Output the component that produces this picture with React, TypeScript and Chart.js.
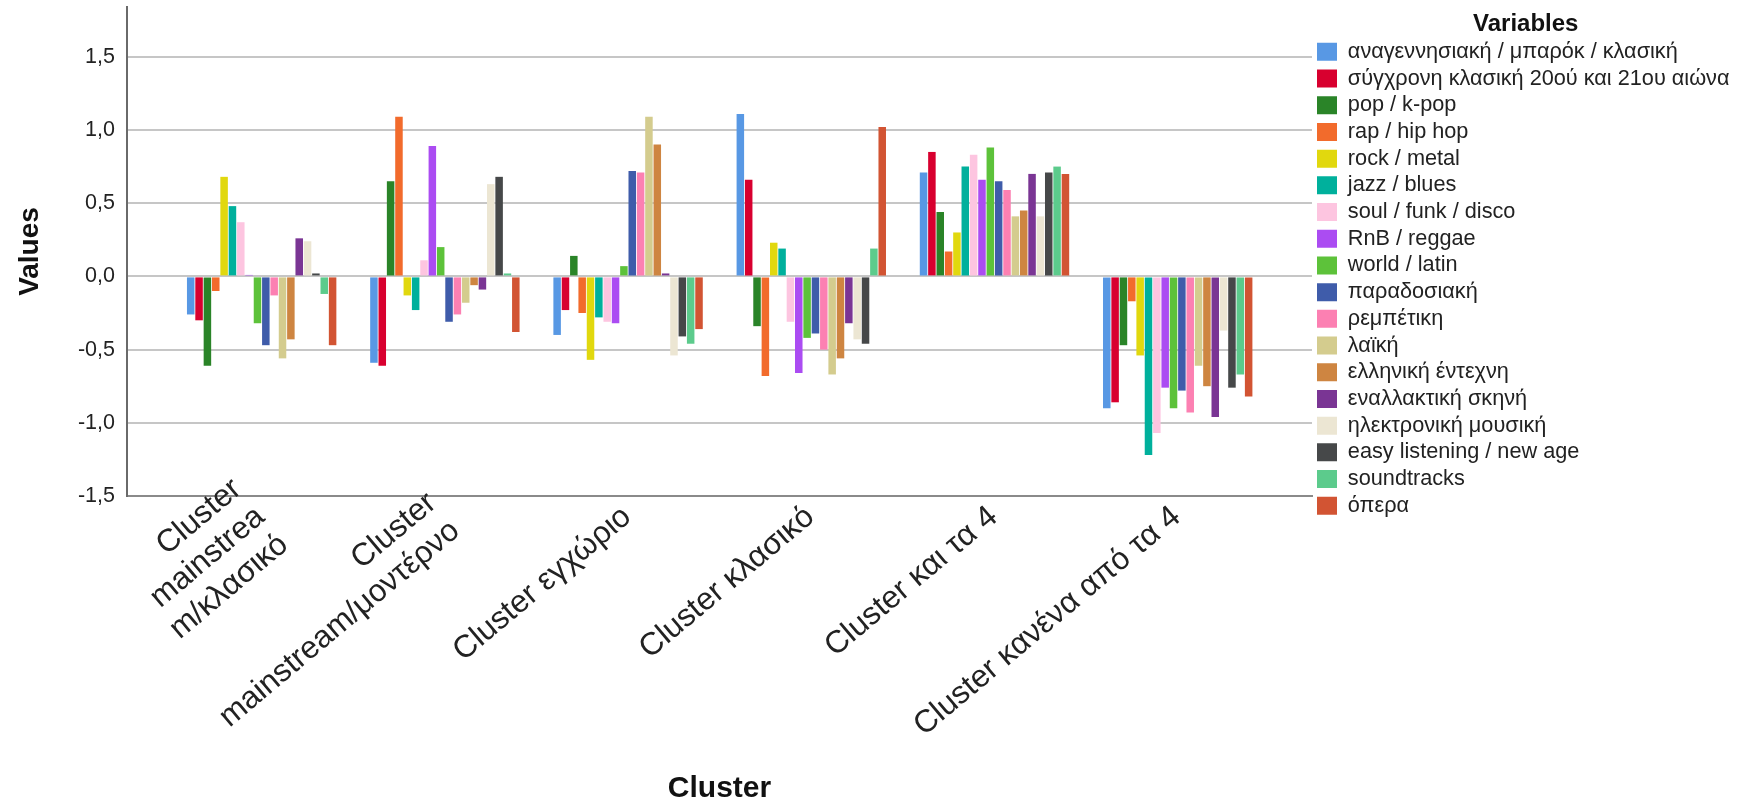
import React, { useEffect, useRef } from 'react';
import { Chart, registerables } from 'chart.js';

Chart.register(...registerables);

const W = 1748;
const H = 807;
const FONT = '"Liberation Sans", Arial, sans-serif';

// Categories (x axis)
const clusterLabels: (string | string[])[] = [
  ['Cluster', 'mainstrea', 'm/κλασικό'],
  ['Cluster', 'mainstream/μοντέρνο'],
  'Cluster εγχώριο',
  'Cluster κλασικό',
  'Cluster και τα 4',
  'Cluster κανένα από τα 4',
];

// Series names (legend)
const seriesNames = [
  'αναγεννησιακή / μπαρόκ / κλασική',
  'σύγχρονη κλασική 20ού και 21ου αιώνα',
  'pop / k-pop',
  'rap / hip hop',
  'rock / metal',
  'jazz / blues',
  'soul / funk / disco',
  'RnB / reggae',
  'world / latin',
  'παραδοσιακή',
  'ρεμπέτικη',
  'λαϊκή',
  'ελληνική έντεχνη',
  'εναλλακτική σκηνή',
  'ηλεκτρονική μουσική',
  'easy listening / new age',
  'soundtracks',
  'όπερα',
];

const seriesColors = [
  '#5898e4', '#d8002f', '#2a8428', '#f26b2c', '#e1d80e', '#00b09c',
  '#fdc5e0', '#ab4cf2', '#5dc23a', '#3f5caa', '#fc80b2', '#d4cc8e',
  '#ce8541', '#7a3594', '#ece6d3', '#464849', '#5ccb8c', '#d25433',
];

// Series values, one per cluster (in clusterLabels order)
const renaissance = [-0.26, -0.59, -0.40, 1.11, 0.71, -0.90];
const contemporaryClassical = [-0.30, -0.61, -0.23, 0.66, 0.85, -0.86];
const pop = [-0.61, 0.65, 0.14, -0.34, 0.44, -0.47];
const rap = [-0.10, 1.09, -0.25, -0.68, 0.17, -0.17];
const rock = [0.68, -0.13, -0.57, 0.23, 0.30, -0.54];
const jazz = [0.48, -0.23, -0.28, 0.19, 0.75, -1.22];
const soul = [0.37, 0.11, -0.31, -0.31, 0.83, -1.07];
const rnb = [0.01, 0.89, -0.32, -0.66, 0.66, -0.76];
const world = [-0.32, 0.20, 0.07, -0.42, 0.88, -0.90];
const traditional = [-0.47, -0.31, 0.72, -0.39, 0.65, -0.78];
const rebetiko = [-0.13, -0.26, 0.71, -0.50, 0.59, -0.93];
const laiki = [-0.56, -0.18, 1.09, -0.67, 0.41, -0.61];
const entexno = [-0.43, -0.06, 0.90, -0.56, 0.45, -0.75];
const alternative = [0.26, -0.09, 0.02, -0.32, 0.70, -0.96];
const electronic = [0.24, 0.63, -0.54, -0.43, 0.41, -0.37];
const easyListening = [0.02, 0.68, -0.41, -0.46, 0.71, -0.76];
const soundtracks = [-0.12, 0.02, -0.46, 0.19, 0.75, -0.67];
const opera = [-0.47, -0.38, -0.36, 1.02, 0.70, -0.82];

const seriesValues = [
  renaissance, contemporaryClassical, pop, rap, rock, jazz, soul, rnb, world,
  traditional, rebetiko, laiki, entexno, alternative, electronic, easyListening,
  soundtracks, opera,
];

// Axis settings
const yMin = -1.5;
const yMax = 1.84;
const yStep = 0.5;
const xMin = -0.735;
const xMax = 5.733;

const LEGEND_FONT = 21.7;
const LEGEND_BOX_W = 20;
const LEGEND_PAD = 5;
const PLOT_LEFT = 127;
const PLOT_RIGHT = 1312;
const PLOT_TOP = 7;
const PLOT_BOTTOM = 496;

const TICK_FONT = 31.5;
const TICK_LH = 36.4;
const ROT = 40;
const UNIT_PX = (PLOT_RIGHT - PLOT_LEFT) / (xMax - xMin);
const SIN = Math.sin((ROT * Math.PI) / 180);
const COS = Math.cos((ROT * Math.PI) / 180);

const LABEL_AXES = ['xLabel0', 'xLabel1'];
const LABEL_RAISE = 60;

function computeRightPadding(): number {
  const c = document.createElement('canvas').getContext('2d');
  if (!c) return 0;
  c.font = `${LEGEND_FONT}px ${FONT}`;
  let w = 0;
  for (const n of seriesNames) w = Math.max(w, c.measureText(n).width);
  const legendWidth = LEGEND_PAD + LEGEND_BOX_W + LEGEND_FONT / 2 + w + 10;
  return Math.max(0, W - PLOT_RIGHT - legendWidth);
}

const tickFont = { family: FONT, size: TICK_FONT, lineHeight: TICK_LH / TICK_FONT };

// An extra label-only axis so that a multi-line label block is centred on its cluster
function labelAxis(index: number) {
  const lines = Array.isArray(clusterLabels[index]) ? (clusterLabels[index] as string[]).length : 1;
  const shift = ((lines - 1) / 2) * TICK_LH;
  return {
    type: 'linear',
    axis: 'x',
    position: 'bottom',
    weight: -1,
    offset: false,
    min: xMin,
    max: xMax,
    afterBuildTicks: (axis: any) => {
      axis.ticks = [{ value: index - (shift * SIN) / UNIT_PX }];
    },
    afterFit: (axis: any) => {
      axis.height = 0;
      axis.paddingLeft = 0;
      axis.paddingRight = 0;
      axis.paddingTop = 0;
      axis.paddingBottom = 0;
    },
    grid: { display: false, drawTicks: false },
    border: { display: false },
    ticks: {
      autoSkip: false,
      minRotation: ROT,
      maxRotation: ROT,
      padding: 3 - shift * COS + LABEL_RAISE,
      labelOffset: -1,
      color: '#222',
      font: tickFont,
      callback: () => clusterLabels[index],
    },
    title: { display: false },
  };
}

// Give the label-only axes (zero layout height) a drawing box below the plot
const labelAreaPlugin = {
  id: 'labelArea',
  afterLayout(chart: any) {
    for (const id of LABEL_AXES) {
      const s = chart.scales[id];
      if (s) {
        s.top = PLOT_BOTTOM - LABEL_RAISE;
        s.bottom = H;
        s.height = s.bottom - s.top;
      }
    }
  },
};

export default function App() {
  const ref = useRef<HTMLCanvasElement | null>(null);

  useEffect(() => {
    if (!ref.current) return;
    const padRight = computeRightPadding();
    const chart = new Chart(ref.current, {
      type: 'bar',
      data: {
        datasets: seriesNames.map((name, s) => ({
          label: name,
          data: seriesValues[s].map((v, i) => ({ x: i, y: v })),
          backgroundColor: seriesColors[s],
          borderWidth: 0,
          categoryPercentage: 0.82,
          barPercentage: 0.9,
          xAxisID: 'x',
          yAxisID: 'y',
        })),
      },
      plugins: [labelAreaPlugin],
      options: {
        responsive: false,
        animation: false,
        events: [],
        layout: { padding: { top: PLOT_TOP, right: padRight, bottom: 0, left: 0 } },
        scales: {
          x: {
            type: 'linear',
            position: 'bottom',
            offset: false,
            min: xMin,
            max: xMax,
            afterBuildTicks: (axis: any) => {
              axis.ticks = clusterLabels.map((_, i) => ({ value: i }));
            },
            afterFit: (axis: any) => {
              axis.height = H - PLOT_BOTTOM;
              axis.paddingLeft = 0;
              axis.paddingRight = 0;
              axis.paddingTop = 0;
              axis.paddingBottom = 0;
            },
            grid: { display: false, drawTicks: false },
            border: { display: true, color: '#8a8a8a', width: 2 },
            ticks: {
              autoSkip: false,
              minRotation: ROT,
              maxRotation: ROT,
              padding: 3,
              labelOffset: -1,
              color: '#222',
              font: tickFont,
              callback: (_v: any, index: number) =>
                Array.isArray(clusterLabels[index]) ? '' : clusterLabels[index],
            },
            title: {
              display: true,
              text: 'Cluster',
              color: '#111',
              font: { family: FONT, size: 30, weight: 'bold', lineHeight: 1.2 },
              padding: { top: 0, bottom: 0 },
            },
          },
          xLabel0: labelAxis(0),
          xLabel1: labelAxis(1),
          y: {
            type: 'linear',
            min: yMin,
            max: yMax,
            afterFit: (axis: any) => {
              axis.width = PLOT_LEFT;
              axis.paddingLeft = 0;
              axis.paddingRight = 0;
              axis.paddingTop = 0;
              axis.paddingBottom = 0;
            },
            grid: { color: '#c6c6c6', lineWidth: 2, drawTicks: false },
            border: { display: true, color: '#6a6a6a', width: 2 },
            ticks: {
              stepSize: yStep,
              includeBounds: false,
              padding: 12,
              color: '#222',
              font: { family: FONT, size: 21.5 },
              callback: (v: any) => Number(v).toFixed(1).replace('.', ','),
            },
            title: {
              display: true,
              text: 'Values',
              color: '#111',
              font: { family: FONT, size: 28, weight: 'bold', lineHeight: 1.2 },
              padding: { top: 13, bottom: 0 },
            },
          },
        },
        plugins: {
          legend: {
            position: 'right',
            align: 'start',
            title: {
              display: true,
              text: 'Variables',
              color: '#111',
              font: { family: FONT, size: 24, weight: 'bold', lineHeight: 1 },
              padding: { top: 5, bottom: 0 },
            },
            labels: {
              boxWidth: LEGEND_BOX_W,
              boxHeight: 18,
              padding: LEGEND_PAD,
              color: '#222',
              font: { family: FONT, size: LEGEND_FONT },
            },
          },
          tooltip: { enabled: false },
        },
      },
    } as any);
    return () => chart.destroy();
  }, []);

  return (
    <div style={{ position: 'fixed', left: 0, top: 0, width: W, height: H, background: '#fff' }}>
      <canvas ref={ref} width={W} height={H} style={{ display: 'block', width: W, height: H }} />
    </div>
  );
}
